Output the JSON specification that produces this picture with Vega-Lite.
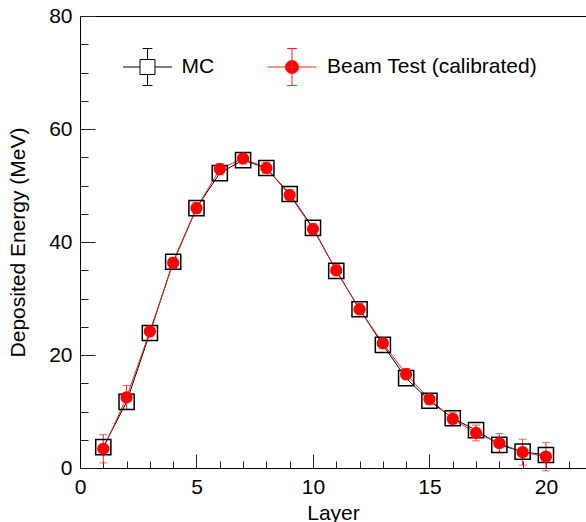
{
  "$schema": "https://vega.github.io/schema/vega-lite/v6.json",
  "autosize": {"type": "none"},
  "padding": {"left": 80, "top": 16, "right": 0, "bottom": 54},
  "width": 506,
  "height": 452,
  "background": "white",
  "config": {
    "view": {"stroke": null},
    "font": "Liberation Sans",
    "axis": {"labelFont": "Liberation Sans", "titleFont": "Liberation Sans", "labelColor": "black", "titleColor": "black", "titleFontWeight": "normal", "grid": false, "domainColor": "black", "tickColor": "#222", "tickWidth": 1, "domainWidth": 1},
    "legend": {"labelFont": "Liberation Sans", "labelColor": "black"}
  },
  "datasets": {
    "mc": [
      {"layer": 1, "energy": 3.7, "err": 0.3},
      {"layer": 2, "energy": 11.7, "err": 0.3},
      {"layer": 3, "energy": 23.9, "err": 0.3},
      {"layer": 4, "energy": 36.5, "err": 0.3},
      {"layer": 5, "energy": 46.0, "err": 0.3},
      {"layer": 6, "energy": 52.2, "err": 0.3},
      {"layer": 7, "energy": 54.5, "err": 0.3},
      {"layer": 8, "energy": 53.1, "err": 0.3},
      {"layer": 9, "energy": 48.5, "err": 0.3},
      {"layer": 10, "energy": 42.5, "err": 0.3},
      {"layer": 11, "energy": 34.9, "err": 0.3},
      {"layer": 12, "energy": 28.1, "err": 0.3},
      {"layer": 13, "energy": 21.8, "err": 0.3},
      {"layer": 14, "energy": 15.9, "err": 0.3},
      {"layer": 15, "energy": 11.9, "err": 0.3},
      {"layer": 16, "energy": 8.8, "err": 0.3},
      {"layer": 17, "energy": 6.7, "err": 0.3},
      {"layer": 18, "energy": 4.1, "err": 0.3},
      {"layer": 19, "energy": 2.9, "err": 0.3},
      {"layer": 20, "energy": 2.3, "err": 0.3}
    ],
    "beam": [
      {"layer": 1, "energy": 3.4, "err": 2.5},
      {"layer": 2, "energy": 12.5, "err": 2.1},
      {"layer": 3, "energy": 24.2, "err": 1.0},
      {"layer": 4, "energy": 36.3, "err": 1.0},
      {"layer": 5, "energy": 46.0, "err": 1.0},
      {"layer": 6, "energy": 52.9, "err": 1.0},
      {"layer": 7, "energy": 54.8, "err": 1.0},
      {"layer": 8, "energy": 53.1, "err": 1.0},
      {"layer": 9, "energy": 48.3, "err": 1.0},
      {"layer": 10, "energy": 42.3, "err": 1.0},
      {"layer": 11, "energy": 35.0, "err": 1.0},
      {"layer": 12, "energy": 28.1, "err": 1.0},
      {"layer": 13, "energy": 22.1, "err": 1.0},
      {"layer": 14, "energy": 16.6, "err": 1.0},
      {"layer": 15, "energy": 12.2, "err": 1.0},
      {"layer": 16, "energy": 8.7, "err": 1.1},
      {"layer": 17, "energy": 6.2, "err": 1.4},
      {"layer": 18, "energy": 4.4, "err": 1.7},
      {"layer": 19, "energy": 2.8, "err": 2.3},
      {"layer": 20, "energy": 2.0, "err": 2.5}
    ]
  },
  "resolve": {"axis": {"x": "independent", "y": "independent"}},
  "layer": [
    {
      "data": {"name": "mc"},
      "mark": {"type": "line", "color": "black", "strokeWidth": 1},
      "encoding": {
        "x": {"field": "layer", "type": "quantitative", "scale": {"domain": [0, 21.72], "nice": false, "zero": false},
          "axis": {"orient": "bottom", "values": [0, 5, 10, 15, 20], "tickSize": -14, "labelFontSize": 21, "labelPadding": 22, "labelFlush": false, "labelOverlap": false, "title": "Layer", "titleFontSize": 21, "titlePadding": 5, "domain": true}},
        "y": {"field": "energy", "type": "quantitative", "scale": {"domain": [0, 80], "nice": false},
          "axis": {"orient": "left", "values": [0, 20, 40, 60, 80], "tickSize": -15, "labelFontSize": 21, "labelPadding": 23, "labelFlush": false, "labelOverlap": false, "title": "Deposited Energy (MeV)", "titleFontSize": 21, "titlePadding": 20, "domain": true}}
      }
    },
    {
      "data": {"name": "beam"},
      "mark": {"type": "line", "color": "#ff2020", "strokeWidth": 1},
      "encoding": {
        "x": {"field": "layer", "type": "quantitative",
          "axis": {"orient": "bottom", "values": [1,2,3,4,6,7,8,9,11,12,13,14,16,17,18,19,21], "tickSize": -7, "labels": false, "domain": false, "title": null}},
        "y": {"field": "energy", "type": "quantitative",
          "axis": {"orient": "left", "values": [5,10,15,25,30,35,45,50,55,65,70,75], "tickSize": -8, "labels": false, "domain": false, "title": null}}
      }
    },
    {
      "data": {"name": "beam"},
      "mark": {"type": "errorbar", "ticks": {"size": 8, "thickness": 1, "color": "#ff2020"}, "rule": {"color": "#ff2020", "strokeWidth": 1}},
      "encoding": {
        "x": {"field": "layer", "type": "quantitative", "axis": null},
        "y": {"field": "energy", "type": "quantitative", "axis": null},
        "yError": {"field": "err"}
      }
    },
    {
      "data": {"name": "mc"},
      "mark": {"type": "point", "shape": "square", "filled": false, "size": 230, "strokeWidth": 1.5, "opacity": 1},
      "encoding": {
        "x": {"field": "layer", "type": "quantitative",
          "axis": {"orient": "top", "ticks": false, "labels": false, "domain": true, "title": null}},
        "y": {"field": "energy", "type": "quantitative", "axis": null},
        "stroke": {"datum": "MC", "type": "nominal", "scale": {"domain": ["MC"], "range": ["black"]},
          "legend": {"orient": "none", "legendX": 42.5, "legendY": 26, "padding": 0, "title": null, "labelFontSize": 21, "labelOffset": 9, "labelLimit": 400, "symbolSize": 2401, "symbolStrokeWidth": 1, "symbolOpacity": 1,
            "symbolType": "M-1,0H-0.306M0.306,0H1M0,-0.306V-0.755M-0.2,-0.755H0.2M0,0.306V0.755M-0.2,0.755H0.2M-0.306,-0.306H0.306V0.306H-0.306Z"}}
      }
    },
    {
      "data": {"name": "beam"},
      "mark": {"type": "point", "shape": "circle", "filled": true, "size": 150, "opacity": 1, "stroke": "#ff2020", "strokeWidth": 0},
      "encoding": {
        "x": {"field": "layer", "type": "quantitative", "axis": null},
        "y": {"field": "energy", "type": "quantitative", "axis": null},
        "fill": {"datum": "Beam Test (calibrated)", "type": "nominal", "scale": {"domain": ["Beam Test (calibrated)"], "range": ["red"]},
          "legend": {"orient": "none", "legendX": 187, "legendY": 26, "padding": 0, "title": null, "labelFontSize": 21, "labelOffset": 10, "labelLimit": 400, "symbolSize": 2401, "symbolStrokeColor": "#ff2020", "symbolStrokeWidth": 1, "symbolOpacity": 1,
            "symbolType": "M-1,0H1M0,-0.755V0.755M-0.2,-0.755H0.2M-0.2,0.755H0.2M-0.27,0A0.27,0.27,0,1,0,0.27,0A0.27,0.27,0,1,0,-0.27,0Z"}}
      }
    }
  ]
}
